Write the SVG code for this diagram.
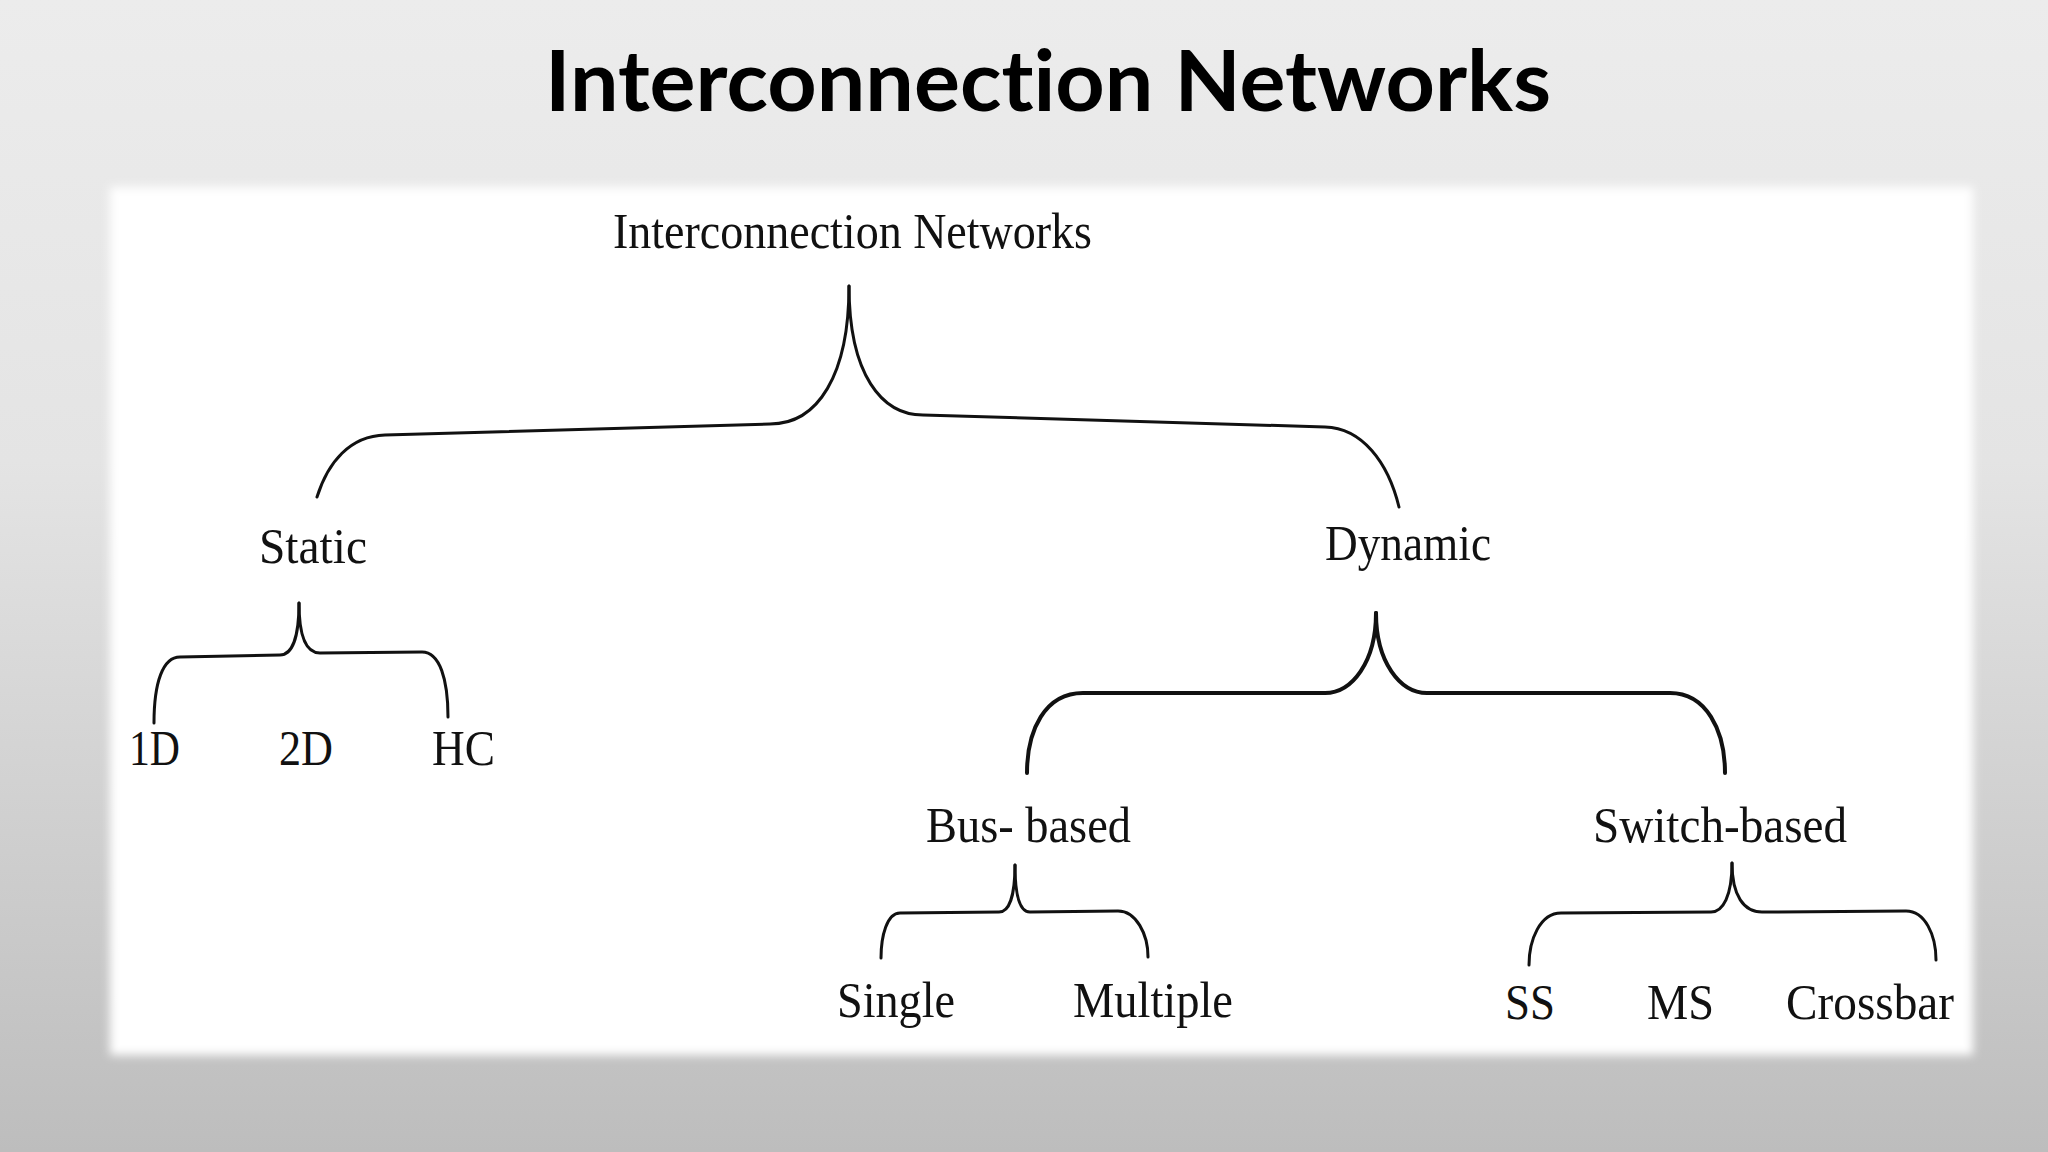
<svg xmlns="http://www.w3.org/2000/svg" width="2048" height="1152" viewBox="0 0 2048 1152">
  <defs>
    <linearGradient id="bg" x1="0" y1="0" x2="0" y2="1">
      <stop offset="0" stop-color="#ececec"/>
      <stop offset="0.4" stop-color="#e4e4e4"/>
      <stop offset="1" stop-color="#bdbdbd"/>
    </linearGradient>
    <filter id="soft" x="-5%" y="-5%" width="110%" height="110%">
      <feGaussianBlur stdDeviation="5"/>
    </filter>
    <style>
      .lbl { font-family: "Liberation Serif", "Times New Roman", serif; font-size: 51px; fill: #111; }
      .br { fill: none; stroke: #111; stroke-width: 3; stroke-linecap: round; stroke-linejoin: round; }
      .brk { stroke-width: 4; }
      .title { font-family: Lato, "Open Sans", "Liberation Sans", sans-serif; font-weight: 700; font-size: 84px; fill: #000; font-variant-ligatures: none; font-feature-settings: "liga" 0, "clig" 0; }
    </style>
  </defs>

  <rect x="0" y="0" width="2048" height="1152" fill="url(#bg)"/>
  <rect x="110" y="187" width="1863" height="868" fill="#ffffff" filter="url(#soft)"/>

  <text id="title" class="title" x="545" y="111" textLength="1006" lengthAdjust="spacingAndGlyphs">Interconnection Networks</text>

  <g id="connectors">
    <path class="br" d="M849,286 C849,375 818,424 770,424 L385,435 C350,436 328,462 317,497"/>
    <path class="br" d="M849,286 C849,375 882,415 923,415 L1325,427 C1362,428 1388,462 1399,507"/>
    <path class="br" d="M299,603 C299,638 292,655 280,655 L180,657 C163,657 154,682 154,723"/>
    <path class="br" d="M299,603 C299,638 307,653 320,653 L422,652 C440,652 448,680 448,717"/>
    <path class="br brk" d="M1376,613 C1376,662 1352,693 1325,693 L1083,693 C1045,693 1027,730 1027,773"/>
    <path class="br brk" d="M1376,613 C1376,662 1400,693 1427,693 L1670,693 C1706,693 1725,730 1725,773"/>
    <path class="br" d="M1015,865 C1015,896 1009,912 999,912 L900,913 C887,913 881,936 881,958"/>
    <path class="br" d="M1015,865 C1015,896 1020,912 1030,912 L1118,911 C1136,911 1148,934 1148,957"/>
    <path class="br" d="M1732,863 C1732,896 1723,912 1711,912 L1561,913 C1540,913 1529,940 1529,965"/>
    <path class="br" d="M1732,863 C1732,896 1744,912 1762,912 L1906,911 C1925,911 1936,935 1936,960"/>
  </g>

  <g id="node-root"><text class="lbl" x="613" y="248" textLength="479" lengthAdjust="spacingAndGlyphs">Interconnection Networks</text></g>
  <g id="node-static"><text class="lbl" x="259" y="563" textLength="108" lengthAdjust="spacingAndGlyphs">Static</text></g>
  <g id="node-dynamic"><text class="lbl" x="1325" y="560" textLength="166" lengthAdjust="spacingAndGlyphs">Dynamic</text></g>
  <g id="node-1d"><text class="lbl" x="129" y="765" textLength="51" lengthAdjust="spacingAndGlyphs">1D</text></g>
  <g id="node-2d"><text class="lbl" x="279" y="765" textLength="54" lengthAdjust="spacingAndGlyphs">2D</text></g>
  <g id="node-hc"><text class="lbl" x="432" y="765" textLength="63" lengthAdjust="spacingAndGlyphs">HC</text></g>
  <g id="node-bus"><text class="lbl" x="926" y="842" textLength="205" lengthAdjust="spacingAndGlyphs">Bus- based</text></g>
  <g id="node-switch"><text class="lbl" x="1593" y="842" textLength="254" lengthAdjust="spacingAndGlyphs">Switch-based</text></g>
  <g id="node-single"><text class="lbl" x="837" y="1017" textLength="118" lengthAdjust="spacingAndGlyphs">Single</text></g>
  <g id="node-multiple"><text class="lbl" x="1073" y="1017" textLength="160" lengthAdjust="spacingAndGlyphs">Multiple</text></g>
  <g id="node-ss"><text class="lbl" x="1505" y="1019" textLength="50" lengthAdjust="spacingAndGlyphs">SS</text></g>
  <g id="node-ms"><text class="lbl" x="1647" y="1019" textLength="67" lengthAdjust="spacingAndGlyphs">MS</text></g>
  <g id="node-crossbar"><text class="lbl" x="1786" y="1019" textLength="168" lengthAdjust="spacingAndGlyphs">Crossbar</text></g>
</svg>
